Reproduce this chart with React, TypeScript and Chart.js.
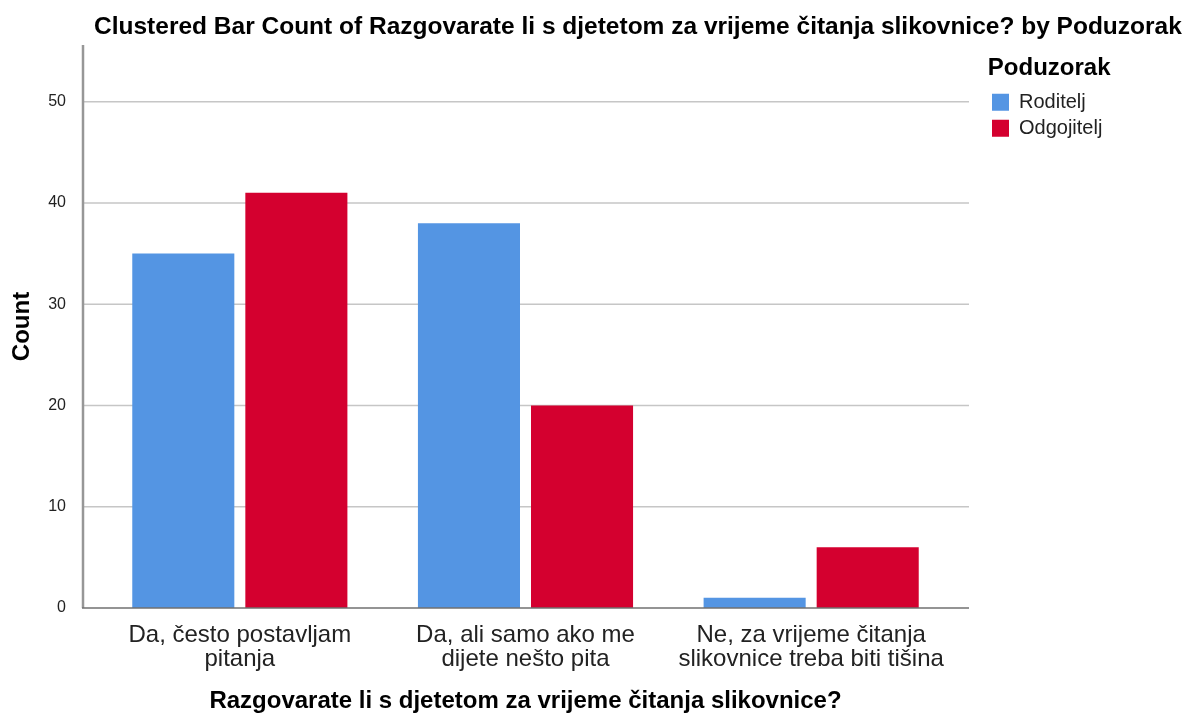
import React, { useEffect, useRef } from 'react';
import { Chart, registerables } from 'chart.js';

Chart.register(...registerables);

const chartTitle =
  'Clustered Bar Count of Razgovarate li s djetetom za vrijeme čitanja slikovnice? by Poduzorak';
const xAxisTitle = 'Razgovarate li s djetetom za vrijeme čitanja slikovnice?';
const yAxisTitle = 'Count';
const legendTitle = 'Poduzorak';
const categories: string[][] = [
  ['Da, često postavljam', 'pitanja'],
  ['Da, ali samo ako me', 'dijete nešto pita'],
  ['Ne, za vrijeme čitanja', 'slikovnice treba biti tišina'],
];
const seriesNames = ['Roditelj', 'Odgojitelj'];
const roditeljCounts = [35, 38, 1];
const odgojiteljCounts = [41, 20, 6];
const yTickValues = [0, 10, 20, 30, 40, 50];
const yAxisMax = 55.6;

const FONT = '"Liberation Sans", Arial, Helvetica, sans-serif';
const BLUE = '#5495e3';
const RED = '#d4002f';

export default function App() {
  const ref = useRef<HTMLCanvasElement>(null);

  useEffect(() => {
    const canvas = ref.current;
    if (!canvas) return;
    Chart.defaults.font.family = FONT;

    const mctx = document.createElement('canvas').getContext('2d')!;
    mctx.font = `20px ${FONT}`;
    const labelW = Math.max(...seriesNames.map((s) => mctx.measureText(s).width));
    const legendWidth = 6 + (17 + 10 + labelW) + 10;
    const legendLeft = 978;
    const padRight = Math.max(0, 1174 - legendLeft - legendWidth);

    const spssAxes = {
      id: 'spssAxes',
      beforeDatasetsDraw(chart: any) {
        const { ctx, chartArea: a, scales } = chart;
        const ys = scales.y;
        const x0 = a.left - 14;
        const x1 = a.right + 15;
        ctx.save();
        ctx.strokeStyle = '#c6c6c6';
        ctx.lineWidth = 1.5;
        yTickValues.forEach((v) => {
          if (v === 0) return;
          const py = ys.getPixelForValue(v);
          ctx.beginPath();
          ctx.moveTo(x0, py);
          ctx.lineTo(x1, py);
          ctx.stroke();
        });
        ctx.strokeStyle = '#979797';
        ctx.lineWidth = 2.5;
        ctx.beginPath();
        ctx.moveTo(x0, a.top);
        ctx.lineTo(x0, ys.getPixelForValue(0));
        ctx.stroke();
        ctx.restore();
      },
      afterDatasetsDraw(chart: any) {
        const { ctx, chartArea: a, scales } = chart;
        const ys = scales.y;
        const x0 = a.left - 15;
        const x1 = a.right + 15;
        const py = ys.getPixelForValue(0);
        ctx.save();
        ctx.strokeStyle = '#707070';
        ctx.lineWidth = 1.5;
        ctx.beginPath();
        ctx.moveTo(x0, py);
        ctx.lineTo(x1, py);
        ctx.stroke();
        ctx.restore();
      },
      afterDraw(chart: any) {
        const { ctx } = chart;
        ctx.save();
        ctx.font = `bold 24.5px ${FONT}`;
        ctx.fillStyle = '#000';
        ctx.textAlign = 'left';
        ctx.textBaseline = 'alphabetic';
        ctx.fillText(chartTitle, 86, 26);
        ctx.restore();
      },
    };

    const chart = new Chart(canvas, {
      type: 'bar',
      data: {
        labels: categories,
        datasets: [
          {
            label: seriesNames[0],
            data: roditeljCounts,
            backgroundColor: BLUE,
            borderWidth: 0,
            categoryPercentage: 0.7916,
            barPercentage: 0.9027,
            yAxisID: 'y',
          },
          {
            label: seriesNames[1],
            data: odgojiteljCounts,
            backgroundColor: RED,
            borderWidth: 0,
            categoryPercentage: 0.7916,
            barPercentage: 0.9027,
            yAxisID: 'y',
          },
        ],
      },
      options: {
        animation: false,
        responsive: false,
        devicePixelRatio: 1,
        layout: { padding: { top: 37, right: padRight, bottom: 0, left: 0 } },
        scales: {
          x: {
            grid: { display: false },
            border: { display: false },
            ticks: {
              color: '#222',
              font: { size: 24, lineHeight: 1 },
              padding: 7,
              maxRotation: 0,
              minRotation: 0,
              autoSkip: false,
            },
            title: {
              display: true,
              text: xAxisTitle,
              color: '#000',
              font: { size: 24, weight: 'bold', lineHeight: 1 },
              padding: { top: 0, bottom: 0 },
            },
            afterFit(s: any) {
              s.height = 105;
            },
          },
          y: {
            min: 0,
            max: yAxisMax,
            afterBuildTicks(s: any) {
              s.ticks = yTickValues.map((v) => ({ value: v }));
            },
            grid: { display: false },
            border: { display: false },
            ticks: { color: '#222', font: { size: 16 }, padding: 23 },
            title: {
              display: true,
              text: yAxisTitle,
              color: '#000',
              font: { size: 24, weight: 'bold', lineHeight: 1.2 },
              padding: { top: 0, bottom: 0 },
            },
            afterFit(s: any) {
              s.width = 89;
            },
          },
          y2: {
            type: 'linear',
            position: 'right',
            display: true,
            grid: { display: false },
            border: { display: false },
            ticks: { display: false },
            afterFit(s: any) {
              s.width = 32;
            },
          },
        },
        plugins: {
          tooltip: { enabled: false },
          legend: {
            position: 'right',
            align: 'start',
            title: {
              display: true,
              text: legendTitle,
              color: '#000',
              position: 'center',
              font: { size: 24, weight: 'bold' },
              padding: { top: 11, bottom: 1.4 },
            },
            labels: {
              boxWidth: 17,
              boxHeight: 17,
              padding: 6,
              color: '#222',
              font: { size: 20 },
            },
          },
        },
      } as any,
      plugins: [spssAxes],
    });

    return () => chart.destroy();
  }, []);

  return (
    <div style={{ width: 1174, height: 705 }}>
      <canvas ref={ref} width={1174} height={705} style={{ display: 'block' }} />
    </div>
  );
}
